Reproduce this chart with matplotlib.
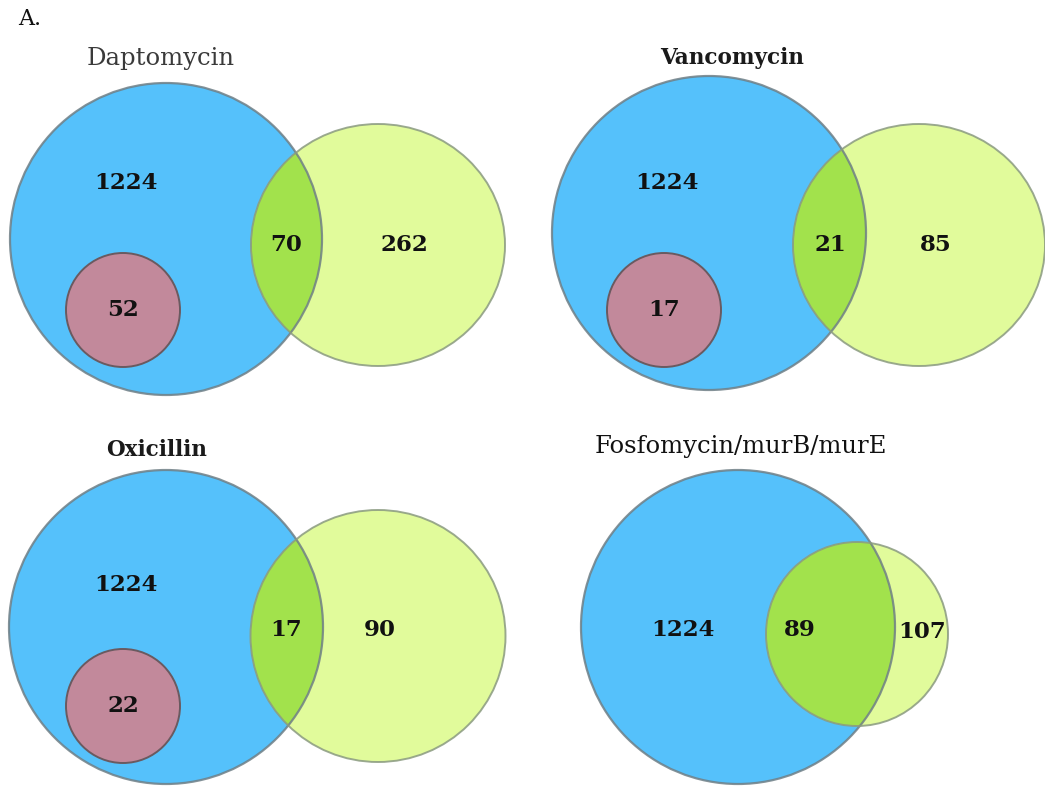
import matplotlib
matplotlib.use("Agg")
import matplotlib.pyplot as plt
from matplotlib.patches import Circle, Ellipse

# ---- data ----
titles = ["Daptomycin", "Vancomycin", "Oxicillin", "Fosfomycin/murB/murE"]
blue_only = [1224, 1224, 1224, 1224]
overlap = [70, 21, 17, 89]
yellow_only = [262, 85, 90, 107]
red_inside = [52, 17, 22, None]

# ---- layout (pixel coordinates) ----
blue_geo = [(166, 239, 156), (709, 233, 157), (166, 627, 157), (738, 627, 157)]
yellow_geo = [(378, 245, 254, 242), (919, 245, 252, 242), (378, 636, 255, 252), (857, 634, 182, 184)]
red_geo = [(123, 310, 57), (664, 310, 57), (123, 706, 57), None]
title_pos = [(161, 58), (732, 58), (157, 450), (741, 447)]
title_weight = ["normal", "bold", "bold", "normal"]
title_size = [17.5, 15.5, 15.5, 17.5]
title_color = ["#3a3a3a", "#1a1a1a", "#1a1a1a", "#111111"]
pos_blue = [(126, 183), (667, 183), (126, 585), (683, 630)]
pos_ov = [(286, 245), (830, 245), (286, 630), (800, 630)]
pos_yel = [(404, 245), (936, 245), (380, 630), (922, 632)]

BLUE = "#55c1fb"
YELLOW = "#e1fb9b"
GREEN = "#a2e24c"
RED = "#c2899b"
EDGE = "#6f7f86"

fig = plt.figure(figsize=(10.45, 7.91), dpi=100)
ax = fig.add_axes([0, 0, 1, 1])
ax.set_xlim(0, 1045)
ax.set_ylim(791, 0)
ax.set_aspect("equal")
ax.axis("off")

font = "DejaVu Serif"
numkw = dict(fontsize=16.5, fontweight="bold", family=font, ha="center", va="center", color="#111111", zorder=10)

ax.text(18, 19, "A.", fontsize=16, family=font, ha="left", va="center", color="#111111")

for i in range(4):
    bx, by, br = blue_geo[i]
    yx, yy, yw, yh = yellow_geo[i]
    ax.add_patch(Circle((bx, by), br, facecolor=BLUE, edgecolor="none", zorder=1))
    ax.add_patch(Ellipse((yx, yy), yw, yh, facecolor=YELLOW, edgecolor="none", zorder=2))
    lens = Ellipse((yx, yy), yw, yh, facecolor=GREEN, edgecolor="none", zorder=3)
    ax.add_patch(lens)
    lens.set_clip_path(Circle((bx, by), br, transform=ax.transData))
    # outlines
    ax.add_patch(Circle((bx, by), br, facecolor="none", edgecolor=EDGE, lw=1.6, alpha=0.85, zorder=4))
    ax.add_patch(Ellipse((yx, yy), yw, yh, facecolor="none", edgecolor="#8a9a80", lw=1.4, alpha=0.85, zorder=4))
    if red_geo[i] is not None:
        rx, ry, rr = red_geo[i]
        ax.add_patch(Circle((rx, ry), rr, facecolor=RED, edgecolor="#6a5a60", lw=1.4, zorder=5))
        ax.text(rx, ry, str(red_inside[i]), **numkw)
    ax.text(*pos_blue[i], str(blue_only[i]), **numkw)
    ax.text(*pos_ov[i], str(overlap[i]), **numkw)
    ax.text(*pos_yel[i], str(yellow_only[i]), **numkw)
    ax.text(*title_pos[i], titles[i], fontsize=title_size[i], fontweight=title_weight[i], family=font,
            ha="center", va="center", color=title_color[i])

fig.savefig("out.png", dpi=100, facecolor="white")
